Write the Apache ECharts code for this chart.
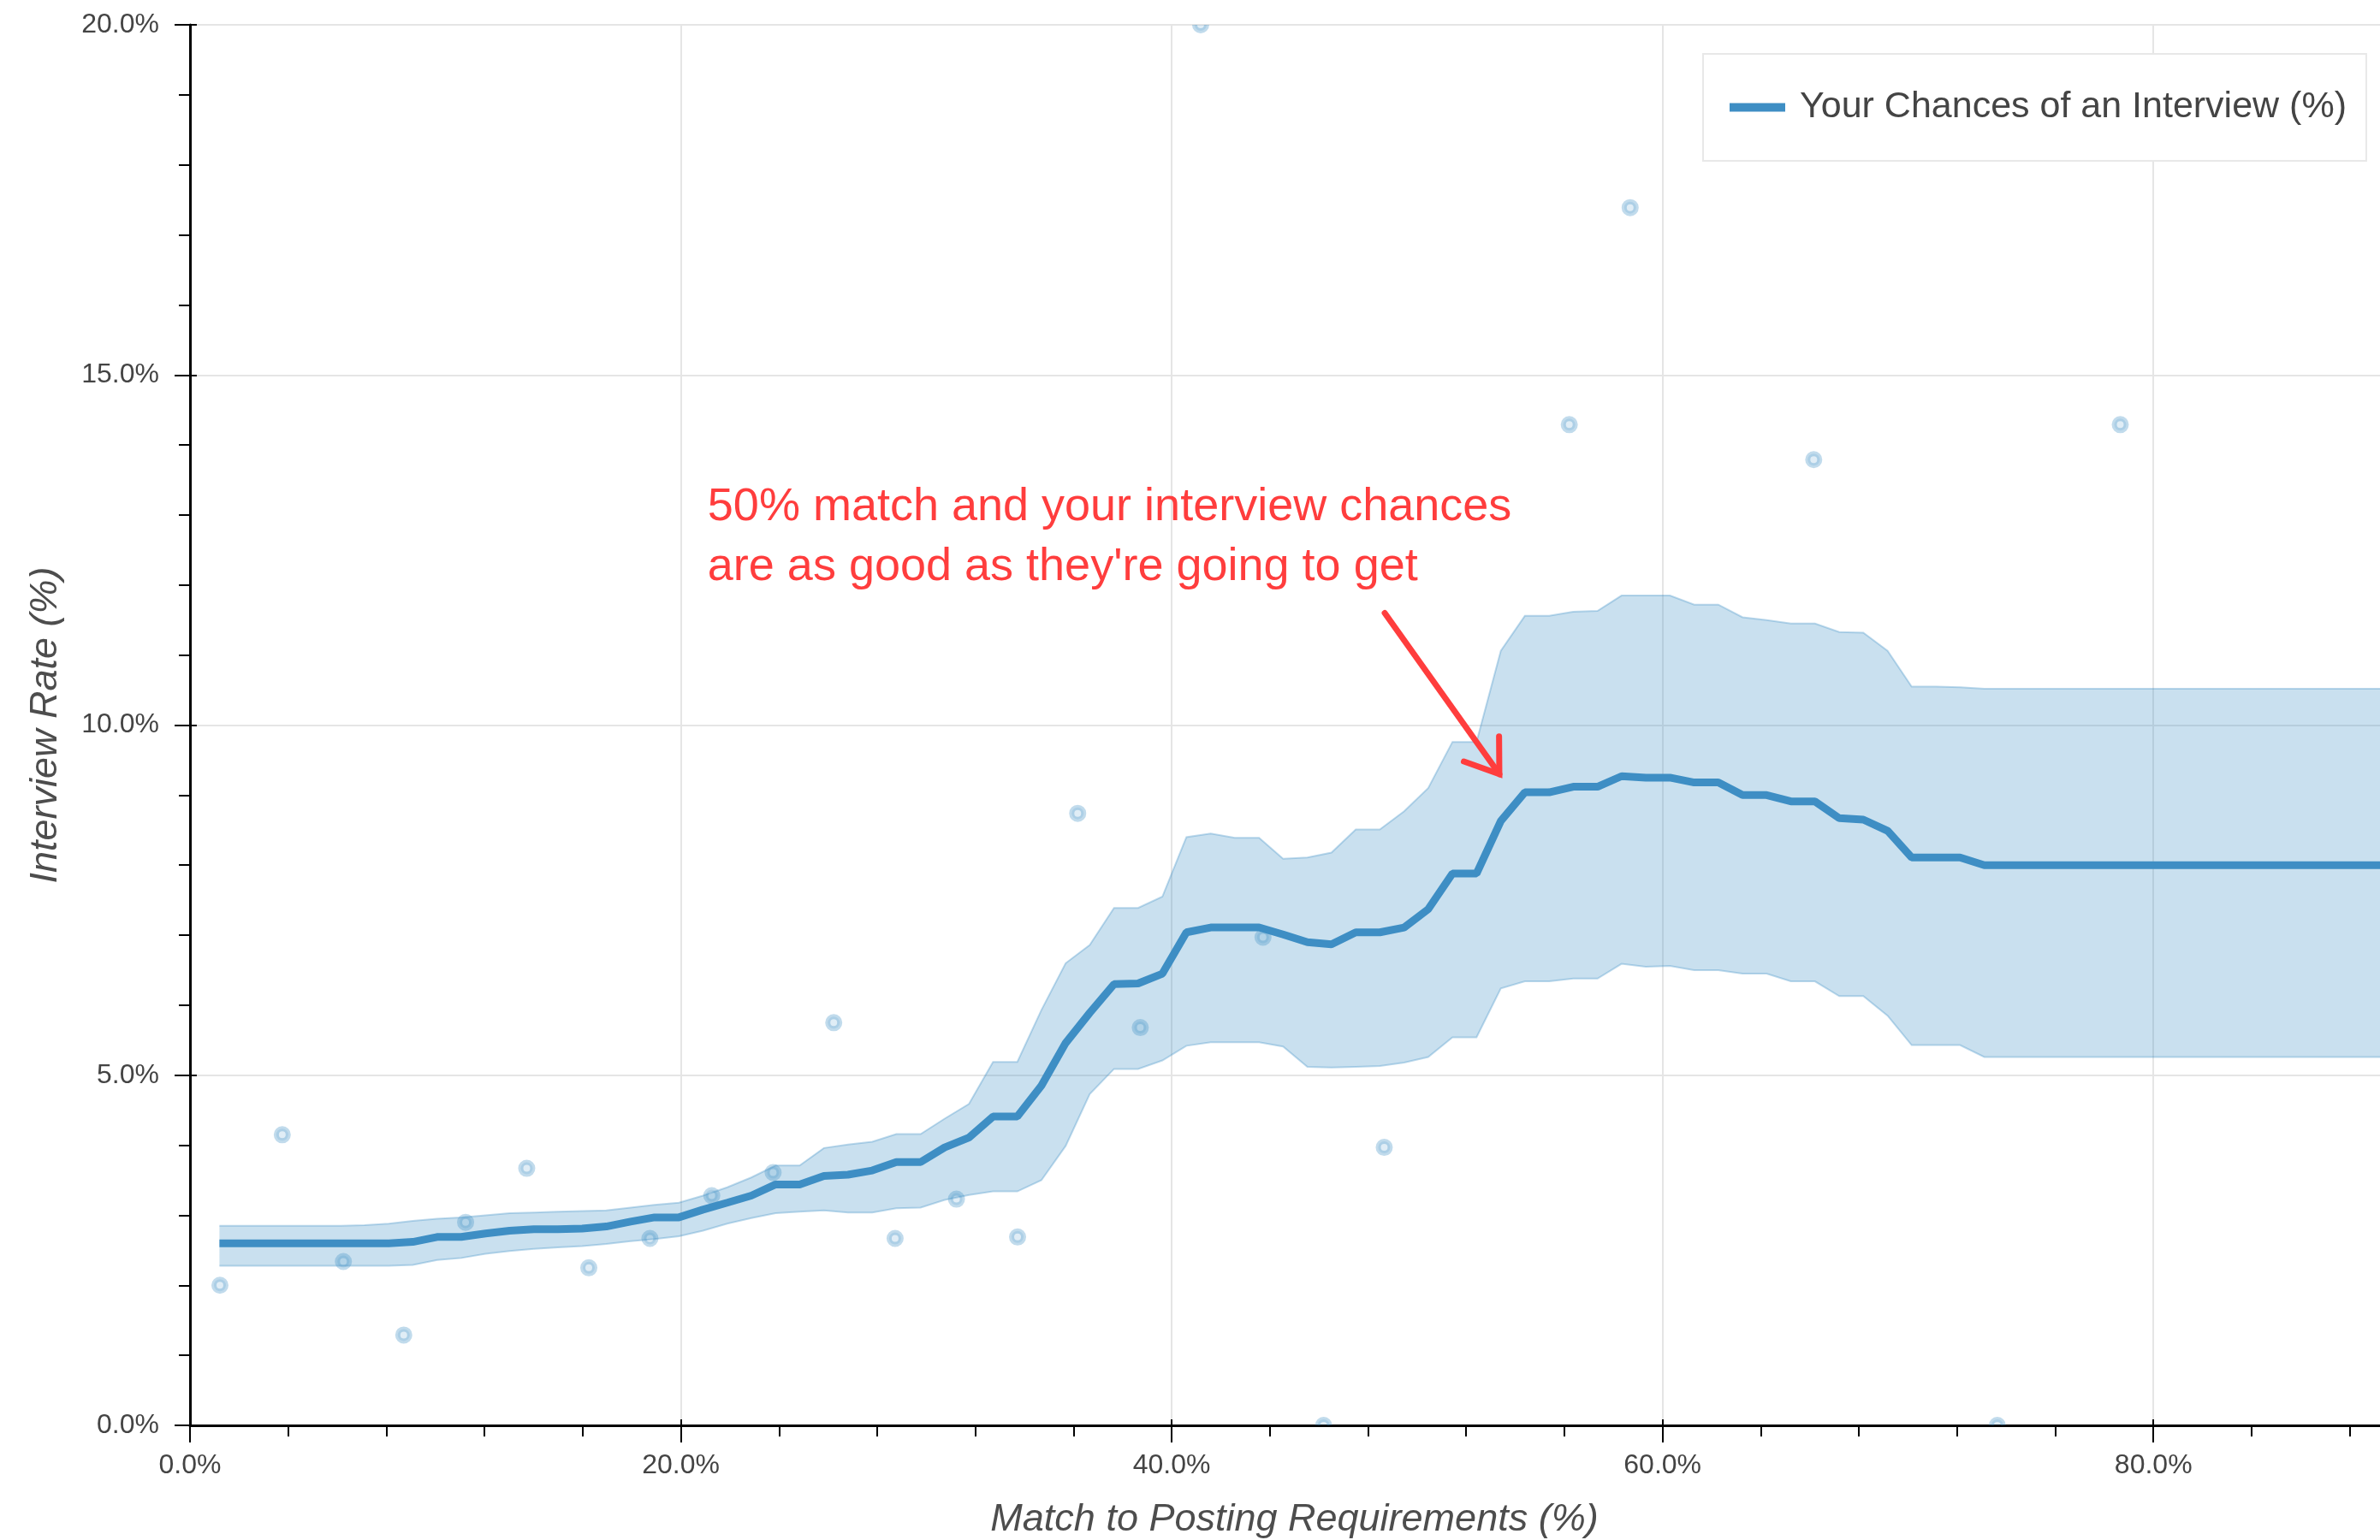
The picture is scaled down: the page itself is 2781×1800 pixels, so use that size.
<!DOCTYPE html>
<html>
<head>
<meta charset="utf-8">
<title>Interview Rate vs Match to Posting Requirements</title>
<script src="https://cdn.jsdelivr.net/npm/echarts@6/dist/echarts.min.js"></script>
<style>
  html, body { margin: 0; padding: 0; background: #ffffff; overflow: hidden; width: 2781px; height: 1800px; }
  /* the plot runs a little past the right edge of the page */
  #chart { width: 2830px; height: 1800px; }
</style>
</head>
<body>
<div id="chart"></div>
<script>
// Match to posting requirements (%), one entry per smoothed estimate
const matchPct = [
  1.20, 2.19, 3.17, 4.16, 5.14, 6.13, 7.11, 8.10, 9.08, 10.07,
  11.05, 12.04, 13.02, 14.01, 14.99, 15.98, 16.96, 17.95, 18.93, 19.92,
  20.90, 21.89, 22.87, 23.86, 24.84, 25.83, 26.81, 27.80, 28.78, 29.77,
  30.75, 31.74, 32.72, 33.71, 34.69, 35.68, 36.66, 37.65, 38.63, 39.62,
  40.60, 41.59, 42.57, 43.56, 44.54, 45.53, 46.51, 47.50, 48.48, 49.47,
  50.45, 51.44, 52.42, 53.41, 54.39, 55.38, 56.36, 57.35, 58.33, 59.32,
  60.30, 61.29, 62.27, 63.26, 64.24, 65.23, 66.21, 67.20, 68.18, 69.17,
  70.15, 71.14, 72.12, 73.11, 74.09, 75.08, 76.06, 77.05, 78.03, 79.02,
  80.00, 80.99, 81.97, 82.96, 83.94, 84.93, 85.91, 86.90, 87.88, 88.87,
  89.85
];

// Estimated chance of an interview (%)
const interviewRate = [
  2.60, 2.60, 2.60, 2.60, 2.60, 2.60, 2.60, 2.60, 2.62, 2.69,
  2.69, 2.74, 2.78, 2.80, 2.80, 2.81, 2.84, 2.91, 2.97, 2.97,
  3.08, 3.18, 3.28, 3.44, 3.44, 3.56, 3.58, 3.64, 3.76, 3.76,
  3.97, 4.11, 4.41, 4.41, 4.85, 5.46, 5.89, 6.30, 6.31, 6.45,
  7.04, 7.11, 7.11, 7.11, 7.01, 6.90, 6.87, 7.04, 7.04, 7.11,
  7.37, 7.88, 7.88, 8.63, 9.04, 9.04, 9.12, 9.12, 9.27, 9.25,
  9.25, 9.18, 9.18, 9.00, 9.00, 8.91, 8.91, 8.67, 8.65, 8.49,
  8.11, 8.11, 8.11, 8.00, 8.00, 8.00, 8.00, 8.00, 8.00, 8.00,
  8.00, 8.00, 8.00, 8.00, 8.00, 8.00, 8.00, 8.00, 8.00, 8.00,
  8.00
];

// Upper edge of the uncertainty band (%)
const upperBound = [
  2.85, 2.85, 2.85, 2.85, 2.85, 2.85, 2.86, 2.88, 2.92, 2.95,
  2.97, 3.00, 3.03, 3.04, 3.05, 3.06, 3.07, 3.11, 3.15, 3.18,
  3.28, 3.40, 3.54, 3.71, 3.71, 3.96, 4.01, 4.05, 4.16, 4.16,
  4.38, 4.59, 5.19, 5.19, 5.93, 6.60, 6.86, 7.39, 7.39, 7.55,
  8.40, 8.45, 8.39, 8.39, 8.09, 8.11, 8.18, 8.51, 8.51, 8.77,
  9.10, 9.76, 9.76, 11.06, 11.56, 11.56, 11.62, 11.63, 11.85, 11.85,
  11.85, 11.72, 11.72, 11.54, 11.50, 11.45, 11.45, 11.33, 11.32, 11.06,
  10.55, 10.55, 10.54, 10.52, 10.52, 10.52, 10.52, 10.52, 10.52, 10.52,
  10.52, 10.52, 10.52, 10.52, 10.52, 10.52, 10.52, 10.52, 10.52, 10.52,
  10.52
];

// Lower edge of the uncertainty band (%)
const lowerBound = [
  2.28, 2.28, 2.28, 2.28, 2.28, 2.28, 2.28, 2.28, 2.29, 2.36,
  2.39, 2.45, 2.49, 2.52, 2.54, 2.56, 2.59, 2.63, 2.66, 2.70,
  2.78, 2.88, 2.96, 3.03, 3.05, 3.07, 3.04, 3.04, 3.10, 3.11,
  3.22, 3.29, 3.34, 3.34, 3.50, 3.99, 4.73, 5.09, 5.09, 5.21,
  5.42, 5.47, 5.47, 5.47, 5.41, 5.12, 5.11, 5.12, 5.13, 5.18,
  5.26, 5.54, 5.54, 6.24, 6.34, 6.34, 6.38, 6.38, 6.59, 6.55,
  6.56, 6.50, 6.50, 6.45, 6.45, 6.34, 6.34, 6.13, 6.13, 5.85,
  5.43, 5.43, 5.43, 5.26, 5.26, 5.26, 5.26, 5.26, 5.26, 5.26,
  5.26, 5.26, 5.26, 5.26, 5.26, 5.26, 5.26, 5.26, 5.26, 5.26,
  5.26
];

// Observed interview rates per match bucket
const obsMatch = [1.22, 3.76, 6.25, 8.71, 11.23, 13.72, 16.25, 18.74, 21.26, 23.76,
  26.23, 28.73, 31.23, 33.72, 36.17, 38.72, 41.18, 43.72, 46.19, 48.66,
  56.20, 58.68, 66.16, 73.64, 78.65];
const obsRate = [2.00, 4.15, 2.34, 1.29, 2.90, 3.67, 2.25, 2.67, 3.28, 3.61,
  5.75, 2.67, 3.23, 2.69, 8.74, 5.68, 20.00, 6.97, 0.00, 3.97,
  14.29, 17.39, 13.79, 0.00, 14.29];

// Annotation
const noteLines = ['50% match and your interview chances', "are as good as they're going to get"];
const noteAnchor = [21.09, 12.68];
const arrowFrom = [48.68, 11.60];
const arrowTo = [53.35, 9.30];

const seriesName = 'Your Chances of an Interview (%)';
const FONT = '"Liberation Sans", Arial, Helvetica, sans-serif';
const BLUE = '#3e8ec4';
const RED = '#ff3d3d';

const meanData = matchPct.map((x, i) => [x, interviewRate[i]]);
const bandData = matchPct.map((x, i) => [x, lowerBound[i], upperBound[i]]);
const obsData = obsMatch.map((x, i) => [x, obsRate[i]]);

const pctLabel = v => v.toFixed(1) + '%';
// x labels only on the major (every 20%) ticks
const majorPctLabel = v => (Math.abs(v / 20 - Math.round(v / 20)) < 1e-6 ? pctLabel(v) : '');

const chart = echarts.init(document.getElementById('chart'), null, { renderer: 'canvas' });

const tickLine = { color: '#000', width: 2 };
const hidden = { show: false };

// Shaded band: one polygon along the upper edge and back along the lower edge
function renderBand(params, api) {
  if (params.dataIndex !== 0) return null;
  const upper = bandData.map(d => api.coord([d[0], d[2]]));
  const lower = bandData.map(d => api.coord([d[0], d[1]]));
  const edge = { stroke: 'rgba(62,142,196,0.33)', lineWidth: 2, fill: null };
  return {
    type: 'group',
    children: [
      {
        type: 'polygon',
        shape: { points: upper.concat(lower.slice().reverse()) },
        style: { fill: 'rgba(62,142,196,0.28)', stroke: null }
      },
      { type: 'polyline', shape: { points: upper }, style: edge },
      { type: 'polyline', shape: { points: lower }, style: edge }
    ]
  };
}

chart.setOption({
  animation: false,
  backgroundColor: '#ffffff',
  textStyle: { fontFamily: FONT },
  grid: { left: 222, top: 29, right: 27, bottom: 134, containLabel: false, outerBoundsMode: 'none' },
  legend: {
    data: [seriesName],
    left: 1990,
    top: 63,
    orient: 'horizontal',
    icon: 'rect',
    itemWidth: 65,
    itemHeight: 10,
    padding: [38, 23, 38, 31],
    backgroundColor: '#ffffff',
    borderColor: '#e8e8e8',
    borderWidth: 2,
    borderRadius: 0,
    textStyle: { fontSize: 43, color: '#444', fontFamily: FONT, lineHeight: 49, padding: [0, 0, 0, 12] },
    selectedMode: false,
    z: 10
  },
  xAxis: [{
    // axis line, short ticks every 4% and the labels
    type: 'value', min: 0, max: 90, interval: 4,
    name: 'Match to Posting Requirements (%)',
    nameLocation: 'middle', nameGap: 88,
    nameTextStyle: { fontSize: 45, fontStyle: 'italic', color: '#4d4d4d', fontFamily: FONT },
    axisLine: { show: true, onZero: false, lineStyle: { color: '#000', width: 3 } },
    axisTick: { show: true, length: 13, lineStyle: tickLine },
    axisLabel: { formatter: majorPctLabel, fontSize: 32, color: '#444', margin: 31, fontFamily: FONT },
    splitLine: hidden
  }, {
    // major ticks and vertical grid lines
    type: 'value', min: 0, max: 90, interval: 20, position: 'bottom', gridIndex: 0,
    axisLine: { show: false, onZero: false },
    axisTick: { show: true, length: 20, lineStyle: tickLine },
    axisLabel: hidden,
    splitLine: { show: true, lineStyle: { color: '#e5e5e5', width: 2 } }
  }, {
    type: 'value', min: 0, max: 90, interval: 20, position: 'bottom', gridIndex: 0,
    axisLine: { show: false, onZero: false },
    axisTick: { show: true, inside: true, length: 7, lineStyle: tickLine },
    axisLabel: hidden,
    splitLine: hidden
  }],
  yAxis: [{
    type: 'value', min: 0, max: 20, interval: 5,
    name: 'Interview Rate (%)',
    nameLocation: 'middle', nameGap: 146,
    nameTextStyle: { fontSize: 45, fontStyle: 'italic', color: '#4d4d4d', fontFamily: FONT },
    axisLine: { show: true, onZero: false, lineStyle: { color: '#000', width: 3 } },
    axisTick: { show: true, length: 18, lineStyle: tickLine },
    minorTick: { show: true, splitNumber: 5, length: 13, lineStyle: tickLine },
    axisLabel: { formatter: pctLabel, fontSize: 32, color: '#444', margin: 36, fontFamily: FONT },
    splitLine: { show: true, lineStyle: { color: '#e5e5e5', width: 2 } }
  }, {
    type: 'value', min: 0, max: 20, interval: 5, position: 'left', gridIndex: 0,
    axisLine: { show: false, onZero: false },
    axisTick: { show: true, inside: true, length: 8, lineStyle: tickLine },
    axisLabel: hidden,
    splitLine: hidden
  }],
  series: [
    {
      type: 'custom', data: bandData, clip: true, silent: true, z: 2,
      encode: { x: 0, y: [1, 2] },
      renderItem: renderBand
    },
    {
      type: 'custom', data: obsData, clip: true, silent: true, z: 3,
      renderItem: (params, api) => {
        const p = api.coord([api.value(0), api.value(1)]);
        return {
          type: 'circle',
          shape: { cx: p[0], cy: p[1], r: 7 },
          style: { fill: 'rgba(62,142,196,0.16)', stroke: 'rgba(62,142,196,0.32)', lineWidth: 6 }
        };
      }
    },
    {
      name: seriesName, type: 'line', data: meanData, symbol: 'none',
      color: BLUE,
      lineStyle: { color: BLUE, width: 9 },
      z: 5
    },
    {
      type: 'custom', data: [[0]], silent: true, z: 8,
      renderItem: (params, api) => {
        const t = api.coord(noteAnchor);
        const a = api.coord(arrowFrom);
        const b = api.coord(arrowTo);
        const ang = Math.atan2(a[1] - b[1], a[0] - b[0]);
        const len = 44, spread = 35 * Math.PI / 180;
        const arm1 = [b[0] + len * Math.cos(ang - spread), b[1] + len * Math.sin(ang - spread)];
        const arm2 = [b[0] + len * Math.cos(ang + spread), b[1] + len * Math.sin(ang + spread)];
        return {
          type: 'group',
          children: [
            {
              type: 'text', x: t[0], y: t[1],
              style: {
                text: noteLines.join('\n'), fill: RED,
                fontSize: 54, fontFamily: FONT, lineHeight: 70,
                align: 'left', verticalAlign: 'middle'
              }
            },
            {
              type: 'polyline', shape: { points: [a, b] },
              style: { stroke: RED, lineWidth: 7, lineCap: 'round', fill: null }
            },
            {
              type: 'polyline', shape: { points: [arm1, b, arm2] },
              style: { stroke: RED, lineWidth: 7, lineCap: 'round', lineJoin: 'miter', fill: null }
            }
          ]
        };
      }
    }
  ]
});
</script>
</body>
</html>
